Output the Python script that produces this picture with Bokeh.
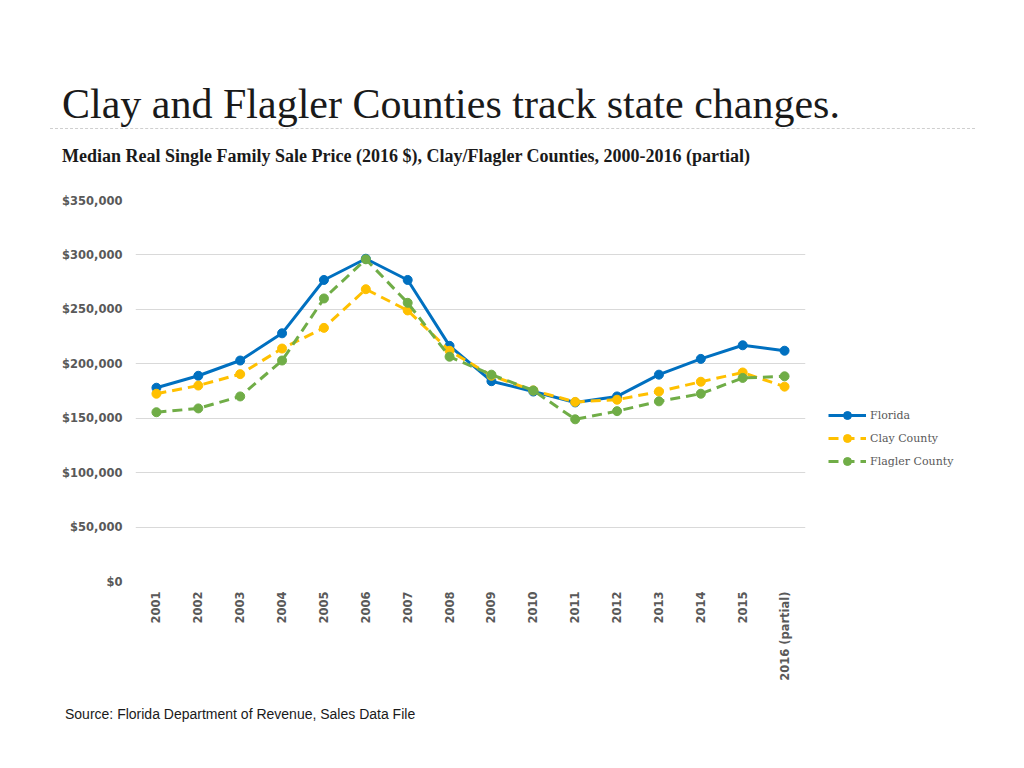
from math import pi
from bokeh.plotting import figure
from bokeh.layouts import column
from bokeh.models import (FactorRange, Range1d, FixedTicker, NumeralTickFormatter,
                          Legend, LegendItem, Div)
from bokeh.embed import file_html
from bokeh.resources import INLINE

years = ["2001", "2002", "2003", "2004", "2005", "2006", "2007", "2008",
         "2009", "2010", "2011", "2012", "2013", "2014", "2015", "2016 (partial)"]
florida = [178000, 189000, 203000, 228000, 277000, 296500, 277000, 216500,
           184000, 174500, 164500, 170000, 190000, 204500, 217000, 212000]
clay = [172500, 180000, 190500, 214000, 233000, 268500, 249000, 212000,
        189000, 175500, 165000, 167000, 174500, 183500, 192000, 179000]
flagler = [155500, 159000, 170000, 203000, 260000, 296000, 256000, 206500,
           190000, 175500, 149000, 156500, 165500, 172500, 187000, 188500]
y_ticks = [0, 50000, 100000, 150000, 200000, 250000, 300000, 350000]

title_text = "Clay and Flagler Counties track state changes."
subtitle_text = "Median Real Single Family Sale Price (2016 $), Clay/Flagler Counties, 2000-2016 (partial)"
source_text = "Source: Florida Department of Revenue, Sales Data File"

W = 1008
top_div = Div(width=W, height=180, styles={"margin": "0", "padding": "0"}, text=(
    '<div style="position:relative;width:1008px;height:180px;">'
    '<div style="position:absolute;left:62px;top:81px;font-family:\'Liberation Serif\';'
    'font-size:42px;line-height:46px;color:#1a1a1a;white-space:nowrap;">' + title_text + '</div>'
    '<div style="position:absolute;left:50px;top:128px;width:925px;height:0;'
    'border-top:1px dashed #cfcfcf;"></div>'
    '<div style="position:absolute;left:62px;top:146px;font-family:\'Liberation Serif\';'
    'font-weight:bold;font-size:18px;line-height:20px;color:#1a1a1a;white-space:nowrap;">'
    + subtitle_text + '</div></div>'))

p = figure(frame_width=670, frame_height=381, x_range=FactorRange(*years),
           y_range=Range1d(0, 350000), output_backend="svg", toolbar_location=None,
           min_border_left=135, min_border_right=0, min_border_top=20, min_border_bottom=119)
p.outline_line_color = None

p.xgrid.grid_line_color = None
p.ygrid.grid_line_color = "#d9d9d9"
p.ygrid.grid_line_width = 1

p.yaxis.ticker = FixedTicker(ticks=y_ticks)
p.yaxis.formatter = NumeralTickFormatter(format="$0,0")
for ax in (p.xaxis[0], p.yaxis[0]):
    ax.axis_line_color = None
    ax.major_tick_line_color = None
    ax.minor_tick_line_color = None
    ax.major_tick_out = 0
    ax.major_tick_in = 0
    ax.major_label_text_font = "DejaVu Sans"
    ax.major_label_text_font_style = "bold"
    ax.major_label_text_font_size = "11.5px"
    ax.major_label_text_color = "#595959"
p.yaxis.major_label_standoff = 13
p.xaxis.major_label_standoff = 10
p.xaxis.major_label_orientation = pi / 2

colors = {"Florida": "#0070C0", "Clay County": "#FFC000", "Flagler County": "#70AD47"}
items = []
for name, vals, dash in (("Florida", florida, "solid"),
                         ("Clay County", clay, "10 6"),
                         ("Flagler County", flagler, "10 6")):
    c = colors[name]
    lr = p.line(years, vals, line_color=c, line_width=3, line_dash=dash)
    sr = p.scatter(years, vals, size=9, fill_color=c, line_color=c)
    items.append(LegendItem(label=name, renderers=[lr, sr]))

legend = Legend(items=items, location=(23, 110), orientation="vertical",
                border_line_color=None, background_fill_alpha=0,
                padding=0, margin=0, spacing=3, glyph_width=38, glyph_height=20,
                label_height=20, label_standoff=4,
                label_text_font="DejaVu Serif", label_text_font_size="11px",
                label_text_color="#595959")
p.add_layout(legend, "right")

src_div = Div(width=W, height=40, styles={"margin": "0", "padding": "0"}, text=(
    '<div style="position:relative;width:1008px;height:40px;">'
    '<div style="position:absolute;left:65px;top:6px;font-family:\'Liberation Sans\';'
    'font-size:14px;line-height:16px;color:#1a1a1a;white-space:nowrap;">' + source_text
    + '</div></div>'))

layout = column(top_div, p, src_div, spacing=0)
open("out.html", "w").write(file_html(layout, INLINE))
